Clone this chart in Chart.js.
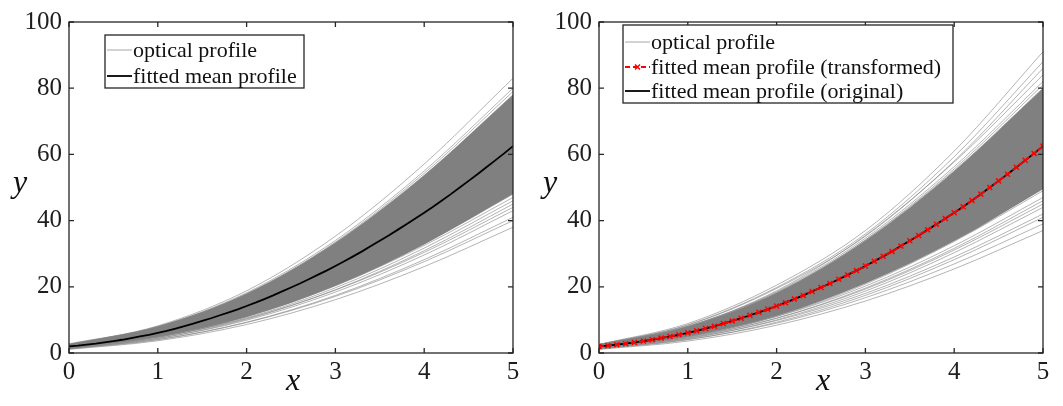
<!DOCTYPE html>
<html>
<head>
  <title>Optical profiles</title>
  <script src="https://cdn.jsdelivr.net/npm/chart.js"></script>
  <style>
    body { margin: 0; background: #fff; }
    .row { display: flex; width: 1063px; height: 406px; }
  </style>
</head>
<body>
<div class="row">
  <canvas id="leftChart" width="531" height="406"></canvas>
  <canvas id="rightChart" width="532" height="406"></canvas>
</div>
<script>
  const xTicks = [0, 1, 2, 3, 4, 5];
  const yTicks = [0, 20, 40, 60, 80, 100];

  // x positions of the sampled optical profiles
  const profileX = [0, 1, 2, 3, 4, 5];

  // left panel: optical profiles
  const leftProfiles = [
    [2.5, 8.2, 18.8, 35.3, 57.1, 83],
    [2.4, 7.9, 18.2, 34.0, 55.0, 80],
    [2.2, 7.7, 17.8, 33.5, 54.3, 79],
    [2.6, 8.0, 17.9, 33.3, 53.7, 78],
    [2.0, 7.3, 17.2, 32.5, 52.9, 77],
    [2.3, 7.5, 17.3, 32.3, 52.3, 76],
    [2.8, 7.9, 17.5, 32.2, 51.8, 75],
    [1.9, 7.0, 16.5, 31.2, 50.8, 74],
    [2.2, 7.2, 16.6, 31.0, 50.2, 73],
    [2.5, 7.4, 16.6, 30.8, 49.6, 72],
    [2.0, 6.9, 16.0, 30.1, 48.8, 71],
    [2.4, 7.2, 16.1, 29.9, 48.2, 70],
    [1.8, 6.5, 15.2, 28.7, 46.7, 68],
    [2.1, 6.7, 15.3, 28.5, 46.1, 67],
    [2.6, 7.1, 15.5, 28.4, 45.6, 66],
    [1.9, 6.4, 14.7, 27.6, 44.7, 65],
    [2.2, 6.6, 14.7, 27.4, 44.1, 64],
    [2.0, 6.3, 14.4, 26.8, 43.4, 63],
    [2.3, 6.5, 14.2, 26.2, 42.1, 61],
    [1.7, 5.8, 13.5, 25.4, 41.2, 60],
    [2.1, 6.1, 13.4, 24.9, 40.0, 58],
    [1.9, 5.8, 13.1, 24.3, 39.3, 57],
    [2.4, 6.2, 13.3, 24.2, 38.7, 56],
    [1.6, 5.4, 12.4, 23.3, 37.8, 55],
    [2.0, 5.7, 12.6, 23.2, 37.3, 54],
    [1.8, 5.4, 12.2, 22.6, 36.5, 53],
    [2.2, 5.7, 12.3, 22.5, 36.0, 52],
    [1.5, 5.0, 11.5, 21.6, 35.1, 51],
    [1.9, 5.3, 11.7, 21.5, 34.5, 50],
    [1.7, 5.1, 11.3, 21.0, 33.8, 49],
    [1.4, 4.7, 10.9, 20.4, 33.0, 48],
    [2.0, 5.2, 11.1, 20.3, 32.5, 47],
    [1.6, 4.8, 10.6, 19.7, 31.7, 46],
    [1.3, 4.4, 10.2, 19.1, 30.9, 45],
    [1.8, 4.8, 10.4, 19.0, 30.4, 44],
    [1.5, 4.4, 9.9, 18.4, 29.6, 43],
    [1.2, 4.0, 9.3, 17.4, 28.2, 41],
    [1.4, 4.1, 9.2, 17.1, 27.6, 40],
    [1.1, 3.7, 8.6, 16.1, 26.1, 38]
  ];
  // dense core of the left band (solid grey)
  const leftCoreLow = [1.6, 4.9, 10.9, 20.3, 32.8, 48];
  const leftCoreHigh = [2.6, 8.0, 17.9, 33.3, 53.7, 78];

  // right panel: optical profiles
  const rightProfiles = [
    [2.6, 8.9, 20.5, 37.0, 61.0, 91],
    [2.4, 8.5, 19.8, 36.0, 59.3, 88],
    [2.5, 8.4, 19.5, 35.3, 58.0, 86],
    [2.2, 8.0, 18.8, 35.5, 57.7, 84],
    [2.3, 8.0, 18.5, 34.7, 56.3, 82],
    [2.0, 7.6, 18.0, 34.2, 55.6, 81],
    [2.6, 8.1, 18.3, 34.1, 55.1, 80],
    [2.1, 7.6, 17.7, 33.4, 54.2, 79],
    [2.4, 7.7, 17.5, 32.8, 53.0, 77],
    [1.9, 7.2, 16.9, 32.1, 52.1, 76],
    [2.3, 7.4, 16.9, 31.5, 50.9, 74],
    [2.0, 7.0, 16.2, 30.5, 49.5, 72],
    [2.5, 7.3, 16.2, 30.0, 48.3, 70],
    [1.8, 6.5, 15.2, 28.7, 46.7, 68],
    [2.2, 6.7, 15.2, 28.2, 45.5, 66],
    [1.9, 6.3, 14.5, 27.2, 44.0, 64],
    [2.3, 6.5, 14.4, 26.6, 42.8, 62],
    [1.7, 5.8, 13.5, 25.4, 41.2, 60],
    [2.1, 6.1, 13.4, 24.9, 40.0, 58],
    [1.9, 5.7, 12.9, 23.9, 38.6, 56],
    [2.2, 5.9, 12.7, 23.3, 37.3, 54],
    [1.6, 5.2, 11.8, 22.1, 35.8, 52],
    [2.0, 5.4, 11.7, 21.5, 34.5, 50],
    [1.5, 4.9, 11.1, 20.8, 33.7, 49],
    [1.8, 5.0, 11.0, 20.2, 32.4, 47],
    [1.4, 4.6, 10.5, 19.6, 31.6, 46],
    [1.7, 4.8, 10.5, 19.3, 31.1, 45],
    [1.3, 4.3, 10.0, 18.7, 30.3, 44],
    [1.6, 4.5, 9.8, 18.0, 29.0, 42],
    [1.2, 4.0, 9.3, 17.4, 28.2, 41],
    [1.4, 4.1, 9.0, 16.7, 26.9, 39],
    [1.1, 3.6, 8.4, 15.7, 25.4, 37]
  ];
  const rightCoreLow = [1.7, 5.0, 11.2, 21.0, 33.8, 49.5];
  const rightCoreHigh = [2.5, 8.0, 18.2, 34.0, 55.0, 80];

  // fitted mean profile, sampled every 0.1
  const meanX = [
    0, 0.1, 0.2, 0.3, 0.4, 0.5, 0.6, 0.7, 0.8, 0.9,
    1, 1.1, 1.2, 1.3, 1.4, 1.5, 1.6, 1.7, 1.8, 1.9,
    2, 2.1, 2.2, 2.3, 2.4, 2.5, 2.6, 2.7, 2.8, 2.9,
    3, 3.1, 3.2, 3.3, 3.4, 3.5, 3.6, 3.7, 3.8, 3.9,
    4, 4.1, 4.2, 4.3, 4.4, 4.5, 4.6, 4.7, 4.8, 4.9, 5
  ];
  const meanY = [
    2.0, 2.2, 2.5, 2.8, 3.2, 3.6, 4.0, 4.5, 5.0, 5.5,
    6.1, 6.7, 7.4, 8.1, 8.9, 9.7, 10.5, 11.4, 12.3, 13.2,
    14.2, 15.2, 16.3, 17.4, 18.6, 19.8, 21.0, 22.3, 23.6, 24.9,
    26.3, 27.7, 29.2, 30.7, 32.3, 33.9, 35.5, 37.2, 38.9, 40.6,
    42.4, 44.2, 46.1, 48.0, 50.0, 52.0, 54.0, 56.1, 58.2, 60.3, 62.5
  ];

  const serif = '"Liberation Serif", "Times New Roman", serif';

  function points(xs, ys) {
    return ys.map((y, i) => ({ x: xs[i], y: y }));
  }

  function profileSets(list) {
    return list.map(vals => ({
      data: points(profileX, vals),
      borderColor: 'rgba(128,128,128,0.85)',
      borderWidth: 0.7,
      pointRadius: 0,
      cubicInterpolationMode: 'monotone',
      fill: false
    }));
  }

  function coreSets(low, high) {
    return [
      {
        data: points(profileX, high),
        borderColor: 'rgba(0,0,0,0)',
        backgroundColor: '#808080',
        pointRadius: 0,
        cubicInterpolationMode: 'monotone',
        fill: '+1'
      },
      {
        data: points(profileX, low),
        borderColor: 'rgba(0,0,0,0)',
        pointRadius: 0,
        cubicInterpolationMode: 'monotone',
        fill: false
      }
    ];
  }

  const meanLine = {
    data: points(meanX, meanY),
    borderColor: '#000',
    borderWidth: 1.8,
    pointRadius: 0,
    fill: false
  };

  const meanTransformed = {
    data: points(meanX, meanY),
    borderColor: '#ff0000',
    borderWidth: 1.8,
    borderDash: [5, 3],
    pointStyle: 'crossRot',
    pointRadius: 3.5,
    pointBorderColor: '#ff0000',
    pointBorderWidth: 1.5,
    fill: false
  };

  // box, inward ticks, axis names and legend, MATLAB style
  const framePlugin = {
    id: 'frame',
    afterDraw(chart, args, opts) {
      const { ctx, chartArea: a, scales } = chart;
      ctx.save();
      ctx.strokeStyle = '#262626';
      ctx.lineWidth = 1.3;
      ctx.strokeRect(a.left, a.top, a.right - a.left, a.bottom - a.top);
      ctx.beginPath();
      xTicks.forEach(v => {
        const px = scales.x.getPixelForValue(v);
        ctx.moveTo(px, a.bottom); ctx.lineTo(px, a.bottom - 5);
        ctx.moveTo(px, a.top); ctx.lineTo(px, a.top + 5);
      });
      yTicks.forEach(v => {
        const py = scales.y.getPixelForValue(v);
        ctx.moveTo(a.left, py); ctx.lineTo(a.left + 5, py);
        ctx.moveTo(a.right, py); ctx.lineTo(a.right - 5, py);
      });
      ctx.stroke();

      ctx.fillStyle = '#111';
      ctx.font = 'italic 32px ' + serif;
      ctx.textAlign = 'center';
      ctx.textBaseline = 'middle';
      ctx.fillText('x', (a.left + a.right) / 2 + 2, 382);
      ctx.fillText('y', a.left - 49, (a.top + a.bottom) / 2 - 4);

      const lg = opts.legend;
      ctx.fillStyle = '#fff';
      ctx.fillRect(lg.x, lg.y, lg.w, lg.h);
      ctx.strokeStyle = '#262626';
      ctx.lineWidth = 1.3;
      ctx.strokeRect(lg.x, lg.y, lg.w, lg.h);
      ctx.textAlign = 'left';
      ctx.font = '22px ' + serif;
      lg.rows.forEach(r => {
        const x0 = lg.x + 2, x1 = lg.x + 27;
        ctx.save();
        ctx.beginPath();
        ctx.moveTo(x0, r.cy); ctx.lineTo(x1, r.cy);
        if (r.kind === 'profile') {
          ctx.strokeStyle = '#c4c4c4'; ctx.lineWidth = 1.5;
        } else if (r.kind === 'red') {
          ctx.strokeStyle = '#ff0000'; ctx.lineWidth = 1.8; ctx.setLineDash([5, 3]);
        } else {
          ctx.strokeStyle = '#000'; ctx.lineWidth = 1.8;
        }
        ctx.stroke();
        if (r.kind === 'red') {
          const mx = (x0 + x1) / 2;
          ctx.setLineDash([]);
          ctx.lineWidth = 1.5;
          ctx.beginPath();
          ctx.moveTo(mx - 2.5, r.cy - 2.5); ctx.lineTo(mx + 2.5, r.cy + 2.5);
          ctx.moveTo(mx - 2.5, r.cy + 2.5); ctx.lineTo(mx + 2.5, r.cy - 2.5);
          ctx.stroke();
        }
        ctx.restore();
        ctx.fillStyle = '#111';
        ctx.fillText(r.label, lg.x + 28, r.cy + 1);
      });
      ctx.restore();
    }
  };

  function makeOptions(yWidth, padRight, legend) {
    return {
      responsive: false,
      animation: false,
      events: [],
      devicePixelRatio: 1,
      layout: { padding: { left: 0, right: padRight, top: 15, bottom: 0 } },
      plugins: {
        legend: { display: false },
        tooltip: { enabled: false },
        frame: { legend: legend }
      },
      scales: {
        x: {
          type: 'linear',
          min: 0,
          max: 5,
          afterBuildTicks: s => { s.ticks = xTicks.map(v => ({ value: v })); },
          afterFit: s => { s.height = 53; },
          grid: { display: false, drawTicks: false },
          border: { display: false },
          ticks: { color: '#1e1e1e', padding: 4, font: { family: serif, size: 25 } }
        },
        y: {
          min: 0,
          max: 100,
          afterBuildTicks: s => { s.ticks = yTicks.map(v => ({ value: v })); },
          afterFit: s => { s.width = yWidth; },
          grid: { display: false, drawTicks: false },
          border: { display: false },
          ticks: { color: '#1e1e1e', padding: 7, font: { family: serif, size: 25 } }
        }
      }
    };
  }

  new Chart(document.getElementById('leftChart'), {
    type: 'line',
    data: {
      datasets: [meanLine]
        .concat(profileSets(leftProfiles))
        .concat(coreSets(leftCoreLow, leftCoreHigh))
    },
    options: makeOptions(69, 18, {
      x: 105, y: 35, w: 199, h: 53,
      rows: [
        { label: 'optical profile', kind: 'profile', cy: 50 },
        { label: 'fitted mean profile', kind: 'black', cy: 76 }
      ]
    }),
    plugins: [framePlugin]
  });

  new Chart(document.getElementById('rightChart'), {
    type: 'line',
    data: {
      datasets: [meanTransformed, Object.assign({}, meanLine)]
        .concat(profileSets(rightProfiles))
        .concat(coreSets(rightCoreLow, rightCoreHigh))
    },
    options: makeOptions(68, 20, {
      x: 92, y: 25, w: 330, h: 78,
      rows: [
        { label: 'optical profile', kind: 'profile', cy: 42 },
        { label: 'fitted mean profile (transformed)', kind: 'red', cy: 67 },
        { label: 'fitted mean profile (original)', kind: 'black', cy: 91 }
      ]
    }),
    plugins: [framePlugin]
  });
</script>
</body>
</html>
